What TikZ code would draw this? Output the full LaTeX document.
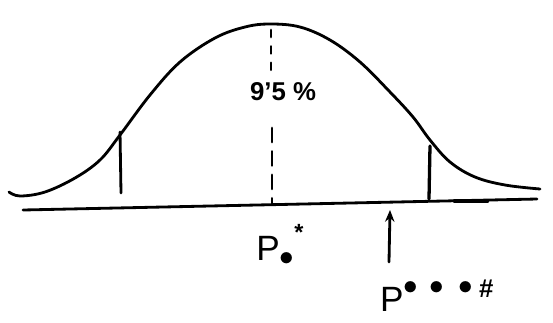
\documentclass[tikz,border=0pt]{standalone}
\usepackage{fontspec}
\setmainfont{Liberation Sans}
\usetikzlibrary{arrows.meta}
\begin{document}
\begin{tikzpicture}[x=0.03cm,y=-0.03cm,
  ink/.style={line width=2.4pt,line cap=round,line join=round},
  lbl/.style={inner sep=0pt,font=\fontsize{22}{24}\selectfont}]
\useasboundingbox (0,0) rectangle (553,322);
% bell curve
\draw[ink] plot[smooth,tension=0.6] coordinates {(9,192) (20,196) (45,192) (75,178) (100,160) (120,135) (150,95) (180,62) (215,38) (245,27) (270,24) (300,27) (330,40) (360,62) (390,92) (413,117) (430,140) (450,162) (475,177) (505,185) (540,189)};
% axis
\coordinate (axL) at (23,210);
\coordinate (axR) at (537,199);
\draw[ink] (axL) -- (axR);
\draw[line width=4pt,line cap=round] (455,201) -- (487,201);
% left and right bounds
\coordinate (lt) at (120,132);
\coordinate (lb) at (121,193);
\draw[ink] (lt) -- (lb);
\coordinate (rt) at (430,146);
\coordinate (rb) at (429,199);
\draw[ink,line width=2.8pt] (rt) -- (rb);
% dashed centre line
\coordinate (ct) at (271,30);
\coordinate (cm) at (271,76);
\coordinate (cm2) at (272,128);
\coordinate (cb) at (272,204);
\draw[ink,dash pattern=on 6pt off 8pt] (ct) -- (cm);
\draw[ink,dash pattern=on 12pt off 8pt] (cm2) -- (cb);
% labels
\node[lbl,font=\bfseries\fontsize{22}{24}\selectfont] (pct) at (283,92) {9'5 \%};
\node[lbl,font=\fontsize{30}{32}\selectfont] (p0) at (280,245) {P\raisebox{-0.15em}{$\bullet$}\raisebox{0.55em}{\bfseries\fontsize{20}{22}\selectfont *}};
\node[lbl,font=\fontsize{30}{32}\selectfont,anchor=west] (p3) at (380,296) {P\raisebox{0.5em}{$\bullet\,\bullet\;\bullet$}\,\raisebox{0.4em}{\bfseries\fontsize{22}{24}\selectfont\#}};
% arrow
\coordinate (as) at (389,262);
\coordinate (ae) at (390,210);
\draw[ink,-{Stealth[length=10pt,width=8pt]}] (as) -- (ae);
\end{tikzpicture}
\end{document}
